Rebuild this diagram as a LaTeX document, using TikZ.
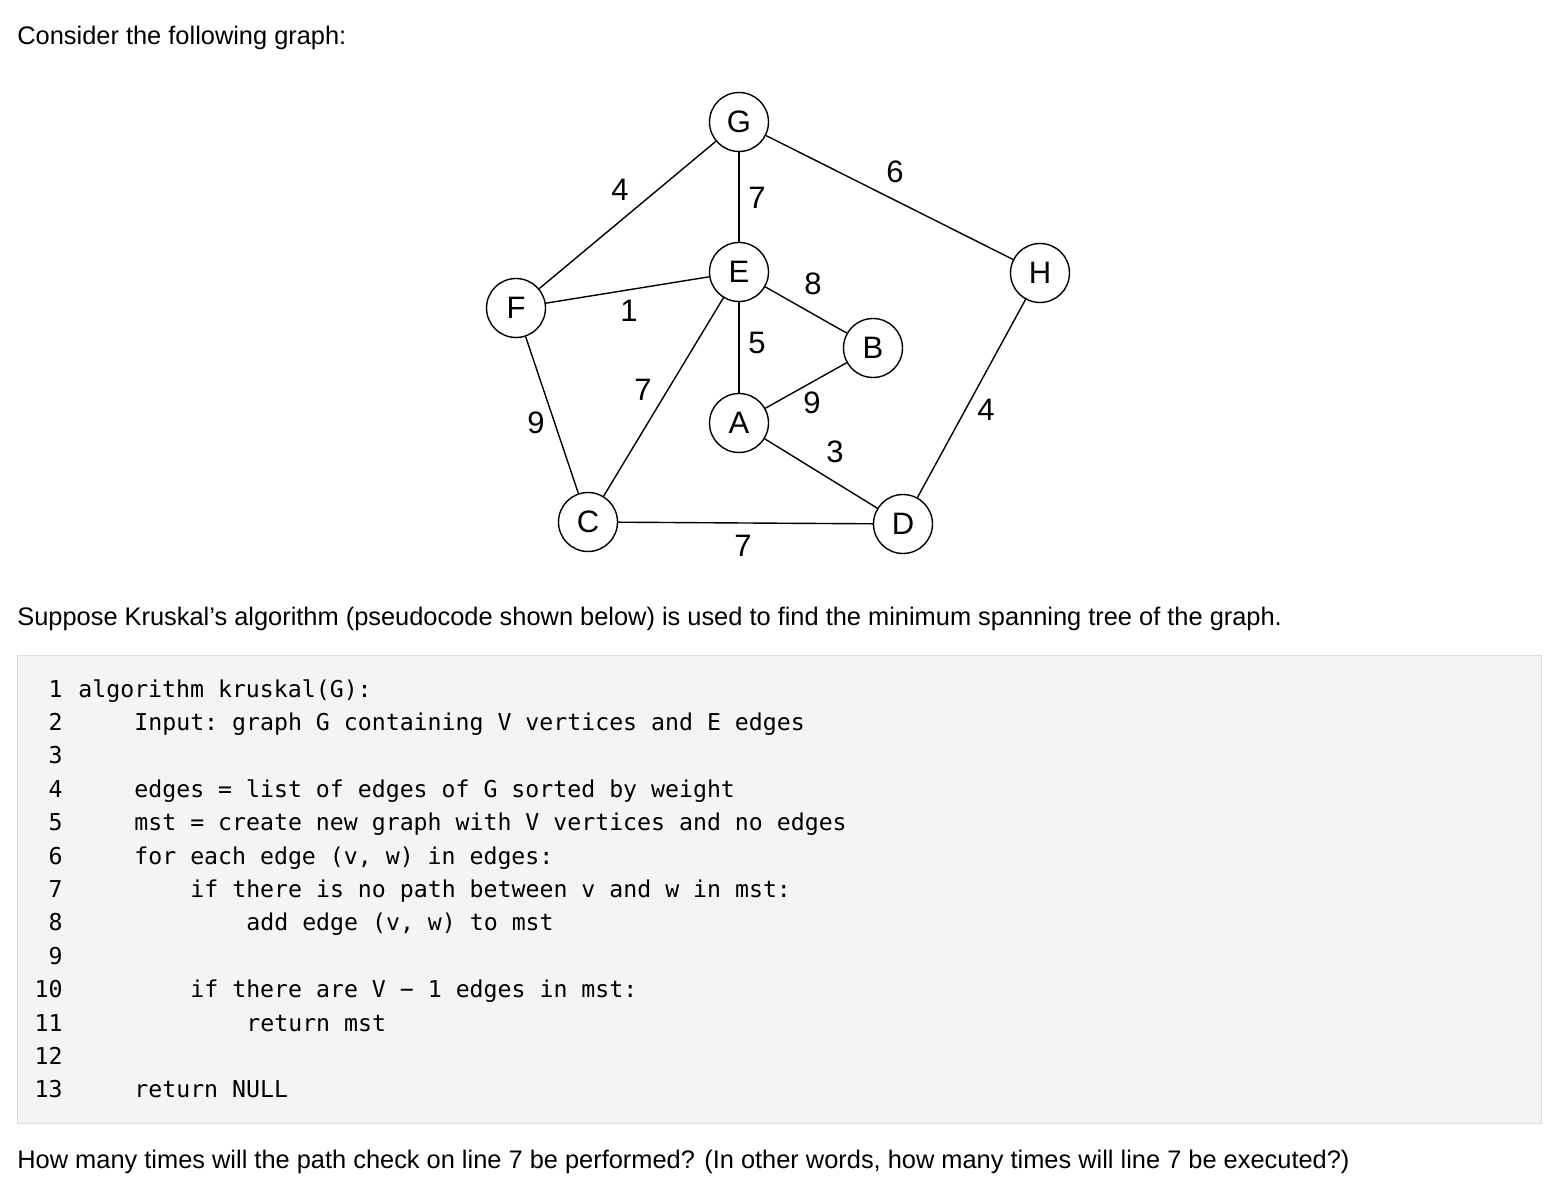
\documentclass[tikz,border=0pt]{standalone}
\usepackage{fontspec}
\setmainfont{Liberation Sans}
\setmonofont{DejaVu Sans Mono}
\begin{document}
\begin{tikzpicture}[x=0.5pt,y=-0.5pt,
  vert/.style={circle,draw,line width=0.7pt,minimum size=29.5pt,inner sep=0pt,font=\fontsize{15.5}{15}\selectfont},
  wt/.style={font=\fontsize{15.5}{15}\selectfont,inner sep=0pt},
  edge/.style={line width=0.7pt},
  txt/.style={anchor=west,inner sep=0pt,font=\fontsize{12.7}{14}\selectfont},
  code/.style={anchor=base west,inner sep=0pt,font=\ttfamily\fontsize{11.6}{13}\selectfont},
  num/.style={anchor=base east,inner sep=0pt,font=\ttfamily\fontsize{11.6}{13}\selectfont}]
\useasboundingbox (0,0) rectangle (1560,1182);
\fill[white] (0,0) rectangle (1560,1182);
\node[txt] (t1) at (17,38) {Consider the following graph:};
\node[vert] (G) at (739,122) {G};
\node[vert] (E) at (739,272) {E};
\node[vert] (F) at (516,308) {F};
\node[vert] (B) at (873,348) {B};
\node[vert] (A) at (739,423) {A};
\node[vert] (C) at (588,522) {C};
\node[vert] (D) at (903,524) {D};
\node[vert] (H) at (1040,273) {H};
\draw[edge] (G)--(F); \draw[edge] (G)--(E); \draw[edge] (G)--(H);
\draw[edge] (F)--(E); \draw[edge] (E)--(B); \draw[edge] (E)--(A);
\draw[edge] (E)--(C); \draw[edge] (A)--(B); \draw[edge] (A)--(D);
\draw[edge] (F)--(C); \draw[edge] (C)--(D); \draw[edge] (H)--(D);
\node[wt] (w1) at (620,190) {4};
\node[wt] (w2) at (757,198) {7};
\node[wt] (w3) at (895,172) {6};
\node[wt] (w4) at (629,311) {1};
\node[wt] (w5) at (813,284) {8};
\node[wt] (w6) at (757,343) {5};
\node[wt] (w7) at (643,390) {7};
\node[wt] (w8) at (812,403) {9};
\node[wt] (w9) at (835,452) {3};
\node[wt] (w10) at (536,423) {9};
\node[wt] (w11) at (743,546) {7};
\node[wt] (w12) at (986,410) {4};
\node[txt] (t2) at (17,619) {Suppose Kruskal's algorithm (pseudocode shown below) is used to find the minimum spanning tree of the graph.};
\draw[fill={rgb,255:red,244;green,244;blue,244},draw={rgb,255:red,220;green,220;blue,220}] (17,655) rectangle (1541,1123);
\foreach \n/\ind/\s in {1/0/{algorithm kruskal(G):},2/4/{Input: graph G containing V vertices and E edges},3/0/{},4/4/{edges = list of edges of G sorted by weight},5/4/{mst = create new graph with V vertices and no edges},6/4/{for each edge (v, w) in edges:},7/8/{if there is no path between v and w in mst:},8/12/{add edge (v, w) to mst},9/0/{},10/8/{if there are V − 1 edges in mst:},11/12/{return mst},12/0/{},13/4/{return NULL}}{
  \node[num] (n\n) at (63,{697+(\n-1)*33.4}) {\n};
  \node[code] (c\n) at ({78+\ind*14},{697+(\n-1)*33.4}) {\s};
}
\node[txt] (t3) at (17,1162) {How many times will the path check on line 7 be performed? (In other words, how many times will line 7 be executed?)};
\end{tikzpicture}
\end{document}
